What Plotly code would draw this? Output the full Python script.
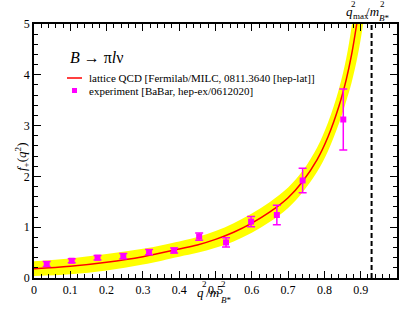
import plotly.graph_objects as go

# ---------------- data ----------------
# lattice QCD curve (q^2/m_B*^2, f+) and its error band
lat_q = [0.0, 0.1, 0.2, 0.3, 0.4, 0.45, 0.5, 0.55, 0.6, 0.65, 0.7, 0.74,
         0.78, 0.81, 0.84, 0.86, 0.875, 0.889, 0.9, 0.91]
lat_f = [0.18, 0.23, 0.31, 0.42, 0.57, 0.65, 0.76, 0.9, 1.08, 1.3, 1.58, 1.9,
         2.33, 2.78, 3.38, 3.9, 4.4, 5.0, 5.55, 6.15]
lat_lo = [0.04, 0.075, 0.15, 0.265, 0.42, 0.495, 0.595, 0.72, 0.89, 1.105, 1.38,
          1.69, 2.09, 2.5, 3.04, 3.48, 3.85, 4.28, 4.7, 5.15]
lat_hi = [0.33, 0.385, 0.47, 0.575, 0.72, 0.805, 0.925, 1.08, 1.27, 1.495, 1.78,
          2.11, 2.57, 3.06, 3.72, 4.32, 4.95, 5.72, 6.4, 7.15]

# BaBar experiment points
exp_q = [0.035, 0.104, 0.175, 0.246, 0.317, 0.386, 0.455, 0.529, 0.598, 0.669, 0.740, 0.852]
exp_f = [0.276, 0.34, 0.40, 0.43, 0.51, 0.54, 0.815, 0.70, 1.11, 1.24, 1.92, 3.12]
exp_err = [0.05, 0.04, 0.045, 0.05, 0.05, 0.05, 0.07, 0.09, 0.10, 0.19, 0.24, 0.60]

qmax = 0.93

legend_title = "<i>B</i> → π<i>l</i>ν"
legend_lat = "lattice QCD [Fermilab/MILC, 0811.3640 [hep-lat]]"
legend_exp = "experiment [BaBar, hep-ex/0612020]"

# ---------------- figure ----------------
W, H = 399, 315
L, R, T, B = 34, 2, 24, 37
PW, PH = W - L - R, H - T - B
FONT = "Liberation Serif"


def px(x):
    return (x - L) / PW


def py(y):
    return (H - B - y) / PH


fig = go.Figure()

fig.add_trace(go.Scatter(x=lat_q, y=lat_hi, mode="lines", line=dict(width=0, shape="spline"),
                         hoverinfo="skip", showlegend=False))
fig.add_trace(go.Scatter(x=lat_q, y=lat_lo, mode="lines", line=dict(width=0, shape="spline"),
                         fill="tonexty", fillcolor="#ffff00", hoverinfo="skip", showlegend=False))
fig.add_trace(go.Scatter(x=lat_q, y=lat_f, mode="lines",
                         line=dict(color="#ff0000", width=1.5, shape="spline"), showlegend=False))
fig.add_trace(go.Scatter(x=exp_q, y=exp_f, mode="markers",
                         marker=dict(symbol="square", size=6, color="#ff00ff"),
                         error_y=dict(type="data", array=exp_err, color="#ff00ff", thickness=1.5, width=4),
                         showlegend=False))

fig.add_shape(type="line", xref="x", yref="y", x0=qmax, x1=qmax, y0=0, y1=5,
              line=dict(color="black", width=2, dash="5px,3px"))

# manual legend
fig.add_shape(type="line", xref="paper", yref="paper", x0=px(67), x1=px(82), y0=py(78), y1=py(78),
              line=dict(color="#ff0000", width=1.5))
fig.add_shape(type="rect", xref="paper", yref="paper", x0=px(72), x1=px(77), y0=py(88), y1=py(93),
              fillcolor="#ff00ff", line=dict(width=0))

ann = []


def text(x, y, s, size, anchor="left", angle=0):
    ann.append(dict(x=px(x), y=py(y), xref="paper", yref="paper", text=s, showarrow=False,
                    xanchor=anchor, yanchor="middle", textangle=angle, borderpad=0,
                    font=dict(family=FONT, size=size, color="black")))


text(69, 57, legend_title, 16)
text(88, 78, legend_lat, 11)
text(88, 91, legend_exp, 11)

# top label q^2_max / m^2_B*
text(345, 11, "<i>q</i>", 13)
text(350, 4, "2", 9)
text(351.5, 16, "max", 9)
text(364.5, 11, "/<i>m</i>", 13)
text(379, 4, "2", 9)
text(378, 18, "<i>B</i>*", 9)

# x title
text(196, 292, "<i>q</i>", 13)
text(201, 284, "2", 9)
text(204.5, 292, "/<i>m</i>", 13)
text(220, 284, "2", 9)
text(219.5, 299.5, "<i>B</i>*", 9)

# y title
text(22, 157, "<i>f</i><sub>+</sub>(<i>q</i><sup>2</sup>)", 13, anchor="center", angle=-90)

fig.update_layout(annotations=ann)

axis_common = dict(showline=True, linecolor="black", linewidth=1.5, mirror="ticks",
                   ticks="inside", tickcolor="black", tickwidth=1.2, ticklen=7,
                   showgrid=False, zeroline=False, automargin=False,
                   tickfont=dict(family=FONT, size=12, color="black"))

fig.update_xaxes(range=[0, 1], dtick=0.1, tick0=0,
                 minor=dict(dtick=0.02, ticks="inside", ticklen=4, tickwidth=1, tickcolor="black", showgrid=False),
                 **axis_common)
fig.update_yaxes(range=[0, 5], dtick=1, tick0=0,
                 minor=dict(dtick=0.2, ticks="inside", ticklen=4, tickwidth=1, tickcolor="black", showgrid=False),
                 **axis_common)

fig.update_layout(width=W, height=H, margin=dict(l=L, r=R, t=T, b=B, autoexpand=False),
                  paper_bgcolor="white", plot_bgcolor="white", showlegend=False,
                  font=dict(family=FONT, color="black"))

fig.write_html("out.html", config={"displayModeBar": False},
               post_script="document.body.style.margin='0';document.body.style.overflow='hidden';")
